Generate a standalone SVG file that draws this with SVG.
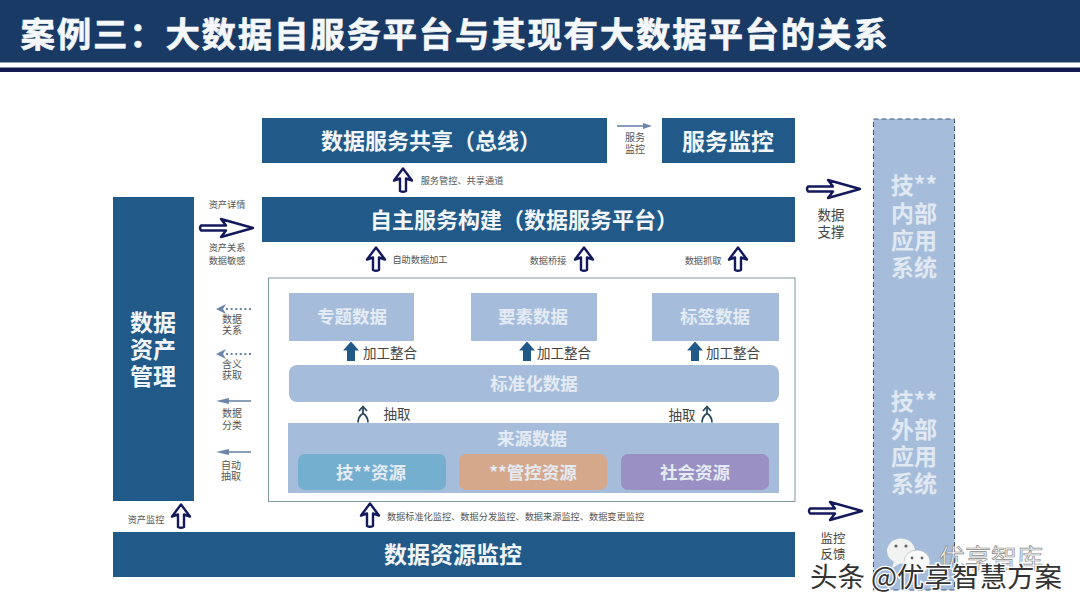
<svg xmlns="http://www.w3.org/2000/svg" width="1080" height="608" viewBox="0 0 1080 608">
<style>
text{font-family:"Noto Sans CJK SC","Noto Sans",sans-serif;text-anchor:middle}
.box{fill:#215a88}
.lt{fill:#a5bddb}
.big{font-size:23px;font-weight:700;fill:#f2f6fa}
.ext{font-size:23px;font-weight:700;fill:#e0e8f2}
.mid{font-size:17.5px;font-weight:700;fill:#e4ebf4}
.sm{font-size:9.2px;fill:#555}
.cap{font-size:10px;fill:#555}
.lab{font-size:13.5px;fill:#444}
.lab2{font-size:12.5px;fill:#444}
.hollow{fill:#fff;stroke:#14195c;stroke-width:2.4;stroke-linejoin:round}
.thin{stroke:#6b86a8;stroke-width:1.6;fill:none}
.dot{stroke:#6b86a8;stroke-width:1.8;fill:none;stroke-dasharray:2 2.6}
.head{fill:#6b86a8}
</style>
<defs>
<path id="up" class="hollow" d="M0,-11.500 L9,0.500 L3,-1.500 L3,11 Q0,12.500 -3,11 L-3,-1.500 L-9,0.500 Z"/>
<path id="right" class="hollow" d="M-26,-2.500 H-1 L-6,-9 L26,0 L-6,9 L-1,2.500 H-26 Q-28,0 -26,-2.500 Z"/>
<path id="fat" fill="#215a88" d="M0,-10 L8,-1 L4,-1 L4,9.500 L-4,9.500 L-4,-1 L-8,-1 Z"/>
<g id="fork" fill="none" stroke="#2b4a60" stroke-width="1.800"><path d="M-4,-3.500 L0,-8 L4,-3.500"/><path d="M0,-8 V-1 M0,-1 Q-5,2 -5,8 M0,-1 Q5,2 5,8"/></g>
</defs>

<g id="header">
<rect x="0" y="0" width="1080" height="62.500" fill="#1a3a66"/>
<rect x="0" y="67.500" width="1080" height="4.500" fill="#10184f"/>
<text x="455" y="47" style="font-size:34.500px;font-weight:700;fill:#f4f8fb;letter-spacing:1.700px;stroke:#f4f8fb;stroke-width:0.600px">案例三&#xFF1A;大数据自服务平台与其现有大数据平台的关系</text>
</g>

<g id="bus"><rect class="box" x="262" y="118" width="345" height="45"/><text class="big" x="431" y="149" style="font-size:22px">数据服务共享&#xFF08;总线&#xFF09;</text></g>
<g id="service-monitor"><rect class="box" x="662" y="118" width="133" height="45"/><text class="big" x="728" y="150">服务监控</text></g>
<g id="self-service"><rect class="box" x="262" y="197" width="533" height="45"/><text class="big" x="524" y="228" style="font-size:22px">自主服务构建&#xFF08;数据服务平台&#xFF09;</text></g>
<g id="asset-mgmt"><rect class="box" x="113" y="197" width="81" height="304"/><text class="big" x="153" y="331">数据</text><text class="big" x="153" y="358">资产</text><text class="big" x="153" y="385">管理</text></g>
<g id="resource-monitor"><rect class="box" x="113" y="532" width="682" height="45"/><text class="big" x="453" y="563">数据资源监控</text></g>

<g id="frame"><rect x="268.500" y="278" width="526.500" height="223.500" fill="#fff" stroke="#7f99a3" stroke-width="1"/></g>
<g id="topic"><rect class="lt" x="289" y="293" width="125" height="48"/><text class="mid" x="352" y="323">专题数据</text></g>
<g id="element"><rect class="lt" x="471" y="293" width="126" height="48"/><text class="mid" x="533" y="323">要素数据</text></g>
<g id="tag"><rect class="lt" x="652" y="293" width="127" height="48"/><text class="mid" x="715" y="323">标签数据</text></g>
<g id="standard"><rect class="lt" x="289" y="365" width="490" height="37" rx="8"/><text class="mid" x="534" y="390">标准化数据</text></g>
<g id="source"><rect class="lt" x="288" y="423" width="491" height="70"/><text class="mid" x="532" y="445">来源数据</text></g>
<g id="res-tech"><rect x="298" y="454" width="148" height="36" rx="7" fill="#74afcf"/><text class="mid" x="371" y="479">技**资源</text></g>
<g id="res-ctrl"><rect x="459" y="454" width="148" height="36" rx="7" fill="#d5a78b"/><text class="mid" x="533" y="479">**管控资源</text></g>
<g id="res-social"><rect x="621" y="454" width="148" height="36" rx="7" fill="#9a90c4"/><text class="mid" x="695" y="479">社会资源</text></g>

<g id="external"><rect class="lt" x="873.500" y="119" width="81" height="471" stroke="#3c5a80" stroke-width="1" stroke-dasharray="5 3"/>
<text class="ext" x="914" y="194">技**</text><text class="ext" x="914" y="222">内部</text><text class="ext" x="914" y="249">应用</text><text class="ext" x="914" y="276">系统</text>
<text class="ext" x="914" y="410">技**</text><text class="ext" x="914" y="438">外部</text><text class="ext" x="914" y="465">应用</text><text class="ext" x="914" y="492">系统</text></g>

<g id="connectors">
<use href="#up" x="403" y="180"/>
<use href="#up" x="376" y="259"/>
<use href="#up" x="584" y="259"/>
<use href="#up" x="738" y="259"/>
<use href="#up" x="181" y="516"/>
<use href="#up" x="370" y="515"/>
<use href="#right" x="227" y="228"/>
<use href="#right" x="834" y="189"/>
<use href="#right" x="836" y="511"/>
<path class="thin" d="M617,126 H644"/><path class="head" d="M643,123 L652,126 L643,129 Z"/>
<path class="dot" d="M226,309 H252"/><path class="head" d="M216,309 L226,304 L223,309 L226,314 Z"/>
<path class="dot" d="M226,354 H252"/><path class="head" d="M216,354 L226,349 L223,354 L226,359 Z"/>
<path class="thin" d="M226,401 H251"/><path class="head" d="M216,401 L229,398 L229,404 Z"/>
<path class="thin" d="M226,452 H251"/><path class="head" d="M216,452 L229,449 L229,455 Z"/>
<use href="#fat" x="351" y="351.500"/>
<use href="#fat" x="527" y="351.500"/>
<use href="#fat" x="695" y="351.500"/>
<use href="#fork" x="363" y="414.500"/>
<use href="#fork" x="707" y="414.500"/>
</g>

<g id="labels">
<text class="sm" x="227" y="208">资产详情</text>
<text class="sm" x="227" y="251">资产关系</text>
<text class="sm" x="227" y="264">数据敏感</text>
<text class="sm" x="462" y="184">服务管控、共享通道</text>
<text class="sm" x="420" y="263">自助数据加工</text>
<text class="sm" x="548" y="264">数据桥接</text>
<text class="sm" x="703" y="264">数据抓取</text>
<text class="cap" x="635" y="141">服务</text><text class="cap" x="635" y="153">监控</text>
<text class="cap" x="232" y="323">数据</text><text class="cap" x="232" y="334">关系</text>
<text class="cap" x="232" y="368">含义</text><text class="cap" x="232" y="379">获取</text>
<text class="cap" x="232" y="417">数据</text><text class="cap" x="232" y="429">分类</text>
<text class="cap" x="231" y="469">自动</text><text class="cap" x="231" y="480">抽取</text>
<text class="sm" x="146" y="523">资产监控</text>
<text class="sm" x="515.500" y="520">数据标准化监控、数据分发监控、数据来源监控、数据变更监控</text>
<text class="lab" x="390" y="358">加工整合</text>
<text class="lab" x="564" y="358">加工整合</text>
<text class="lab" x="733" y="358">加工整合</text>
<text class="lab" x="397" y="419">抽取</text>
<text class="lab" x="682" y="420">抽取</text>
<text class="lab" x="831" y="220">数据</text><text class="lab" x="831" y="237">支撑</text>
<text class="lab2" x="833" y="543">监控</text><text class="lab2" x="833" y="559">反馈</text>
</g>

<g id="watermark">
<ellipse cx="901" cy="551" rx="14" ry="12.500" fill="#f2f2f2"/><path d="M894,561 L892,568 L901,563 Z" fill="#f2f2f2"/>
<ellipse cx="917" cy="562" rx="13" ry="12" fill="#fafafa" stroke="#9aa" stroke-width="0.500"/>
<circle cx="896" cy="546" r="1.600" fill="#666"/><circle cx="906" cy="546" r="1.600" fill="#666"/><circle cx="912" cy="558" r="1.400" fill="#666"/><circle cx="922" cy="558" r="1.400" fill="#666"/>
<text x="991" y="568" style="font-size:26px;fill:#f4f4f4;stroke:#8a8a8a;stroke-width:0.700px">优享智库</text>
<text x="936" y="587" style="font-size:27.500px;fill:#333;stroke:#fff;stroke-width:2.500px;paint-order:stroke">头条 @优享智慧方案</text>
</g>
</svg>
